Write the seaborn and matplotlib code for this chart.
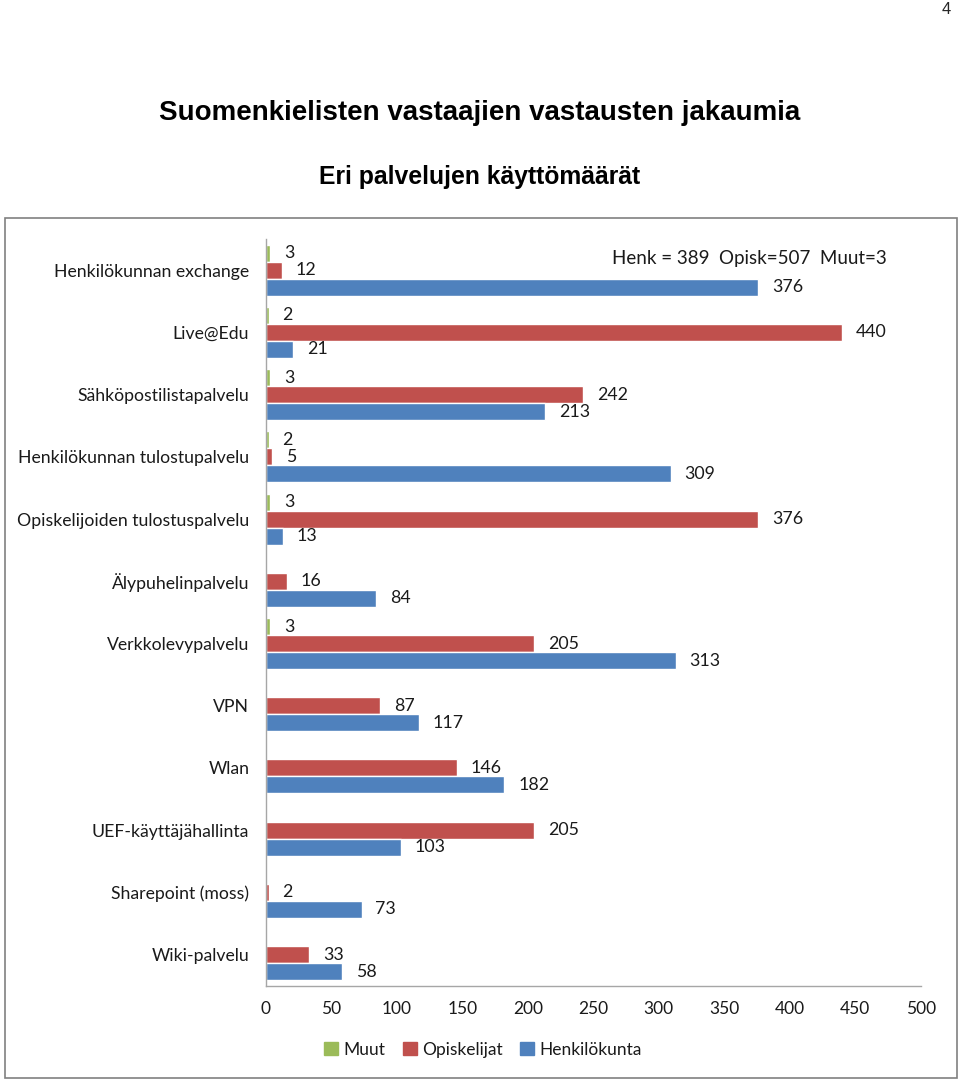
import pandas as pd
import numpy as np
import matplotlib
matplotlib.use("Agg")
import matplotlib.pyplot as plt
import seaborn as sns
from matplotlib.patches import Rectangle

# data
palvelut = ['Henkilökunnan exchange', 'Live@Edu', 'Sähköpostilistapalvelu',
            'Henkilökunnan tulostupalvelu', 'Opiskelijoiden tulostuspalvelu',
            'Älypuhelinpalvelu', 'Verkkolevypalvelu', 'VPN', 'Wlan',
            'UEF-käyttäjähallinta', 'Sharepoint (moss)', 'Wiki-palvelu']
muut = [3, 2, 3, 2, 3, np.nan, 3, np.nan, np.nan, np.nan, np.nan, np.nan]
opiskelijat = [12, 440, 242, 5, 376, 16, 205, 87, 146, 205, 2, 33]
henkilokunta = [376, 21, 213, 309, 13, 84, 313, 117, 182, 103, 73, 58]
ryhmat = ['Muut', 'Opiskelijat', 'Henkilökunta']
varit = ['#9BBB59', '#C0504D', '#4F81BD']
xticks = [0, 50, 100, 150, 200, 250, 300, 350, 400, 450, 500]

df = pd.DataFrame({'Palvelu': palvelut, 'Muut': muut,
                   'Opiskelijat': opiskelijat, 'Henkilökunta': henkilokunta})
df = df.melt(id_vars='Palvelu', var_name='Ryhmä', value_name='Määrä')

sns.set_style('white')
plt.rcParams['font.family'] = ['Lato', 'DejaVu Sans']

fig = plt.figure(figsize=(9.6, 10.82), dpi=100)
ax = fig.add_axes([0.277, 0.089, 0.682, 0.690])

sns.barplot(data=df, y='Palvelu', x='Määrä', hue='Ryhmä', hue_order=ryhmat,
            order=palvelut, palette=varit, orient='h', width=0.82,
            saturation=1, errorbar=None, ax=ax, legend=False)

for cont in ax.containers:
    labels = ['' if np.isnan(b.get_width()) else f'{b.get_width():.0f}' for b in cont]
    ax.bar_label(cont, labels=labels, padding=10, fontsize=12.8, color='#1a1a1a')

ax.set_xlim(0, 500)
ax.set_xticks(xticks)
ax.set_xlabel('')
ax.set_ylabel('')
ax.tick_params(axis='x', length=0, pad=11, labelsize=12.5, colors='#1a1a1a')
ax.tick_params(axis='y', length=0, pad=12, labelsize=12.7, colors='#1a1a1a')
for s in ['top', 'right']:
    ax.spines[s].set_visible(False)
for s in ['left', 'bottom']:
    ax.spines[s].set_color('#A6A6A6')
    ax.spines[s].set_linewidth(1)

ax.text(0.949, 0.974, 'Henk = 389  Opisk=507  Muut=3', transform=ax.transAxes,
        ha='right', va='center', fontsize=13.5, color='#1a1a1a')

handles = [Rectangle((0, 0), 1, 1, color=c) for c in varit]
fig.legend(handles, ryhmat, loc='center', bbox_to_anchor=(0.503, 0.03), ncol=3,
           frameon=False, fontsize=12.5, handlelength=0.8, handleheight=0.8,
           handletextpad=0.3, columnspacing=1.0, labelcolor='#1a1a1a')

# chart border
fig.patches.append(Rectangle((5 / 960, 4 / 1082), 952 / 960, 860 / 1082,
                             transform=fig.transFigure, fill=False,
                             edgecolor='#808080', linewidth=1.2))

fig.text(0.5, 1 - 113 / 1082, 'Suomenkielisten vastaajien vastausten jakaumia',
         ha='center', va='center', fontsize=20, fontweight='bold',
         family='Liberation Sans', color='black')
fig.text(0.5, 1 - 177 / 1082, 'Eri palvelujen käyttömäärät',
         ha='center', va='center', fontsize=17.8, fontweight='bold',
         family='Liberation Sans', color='black')
fig.text(0.99, 1 - 9 / 1082, '4', ha='right', va='center', fontsize=12,
         family='Liberation Sans')

fig.savefig('out.png', dpi=100)
